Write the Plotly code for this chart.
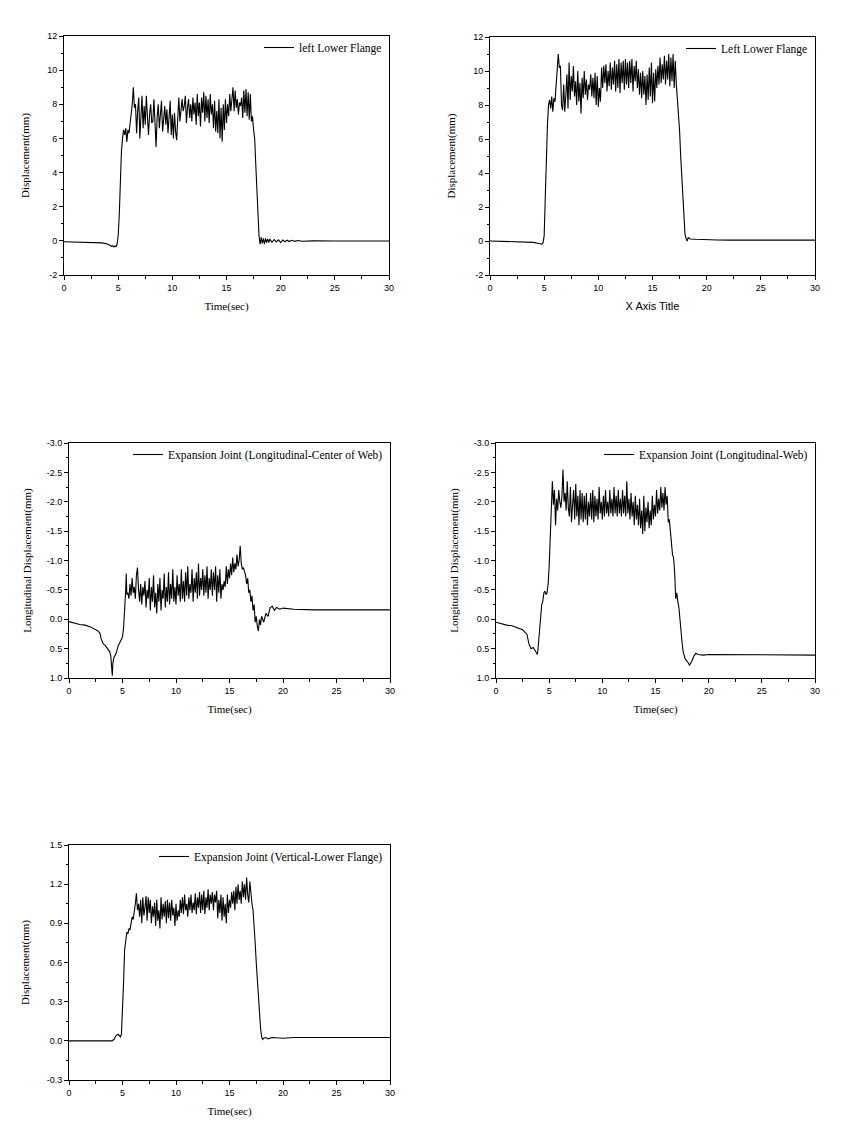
import plotly.graph_objects as go

# ---------------- data ----------------
DT = 0.1

# Series 1: left Lower Flange
s1_pre_t = [0, 1, 2, 3, 3.5, 4.0, 4.2, 4.4, 4.5, 4.6, 4.7, 4.8, 4.9, 5.0, 5.1, 5.2, 5.3, 5.4,
            5.5, 5.6, 5.7, 5.8, 5.9, 6.0, 6.1, 6.2, 6.3, 6.4]
s1_pre_y = [-0.05, -0.06, -0.08, -0.1, -0.12, -0.18, -0.25, -0.32, -0.28, -0.36, -0.3, -0.34, -0.2,
            0.3, 1.5, 3.5, 5.2, 6.0, 6.5, 6.2, 6.6, 5.8, 6.5, 6.3, 6.9, 7.2, 8.0, 9.0]
s1_plateau_start = 6.5
s1_plateau_y = [7.8, 8.0, 6.3, 7.6, 8.4, 6.0, 7.2, 8.5, 6.6, 7.9,
                6.8, 8.5, 7.3, 6.2, 7.4, 8.0, 6.9, 7.0, 8.3, 6.4,
                5.5, 7.3, 8.0, 6.6, 7.5, 8.2, 6.4, 7.0, 7.9, 6.8,
                7.7, 6.3, 7.1, 8.2, 6.2, 7.4, 6.0, 7.5, 6.4, 5.9,
                7.2, 8.4, 7.0, 7.8, 8.3, 7.6, 7.9, 8.5, 6.9, 7.8,
                8.3, 7.2, 8.0, 7.0, 8.4, 7.4, 8.1, 6.8, 8.6, 7.3,
                8.1, 6.7, 8.4, 7.5, 8.7, 7.0, 8.5, 7.2, 8.3, 6.9,
                8.6, 7.4, 8.0, 6.6, 8.2, 6.4, 7.6, 6.3, 8.3, 6.0,
                7.8, 5.8, 8.0, 6.5, 8.3, 6.9, 8.0, 7.3, 8.6, 7.6,
                8.2, 9.0, 7.6, 8.8, 7.8, 8.3, 7.4, 8.1, 7.9, 8.4,
                7.2, 8.8, 7.5, 8.9, 7.3, 8.7, 7.1, 8.6, 7.0, 7.3]
s1_post_t = [17.5, 17.6, 17.7, 17.8, 17.9, 18.0, 18.1, 18.2, 18.3, 18.4, 18.5, 18.6, 18.7, 18.8,
             18.9, 19.0, 19.2, 19.4, 19.6, 19.8, 20.0, 20.2, 20.4, 20.6, 20.8, 21.0, 21.3, 21.6,
             22.0, 23.0, 25.0, 30.0]
s1_post_y = [6.5, 6.0, 4.5, 3.0, 1.5, 0.3, -0.2, 0.2, -0.15, 0.15, -0.2, 0.15, -0.1, 0.12,
             -0.1, 0.1, -0.08, 0.08, -0.06, 0.06, -0.1, 0.05, -0.05, 0.04, -0.04, 0.03, -0.03, 0.02,
             -0.02, 0.0, -0.01, -0.01]

# Series 2: Left Lower Flange
s2_pre_t = [0, 1, 2, 3, 4, 4.5, 4.8, 4.9, 5.0, 5.1, 5.2, 5.3, 5.4, 5.5, 5.6, 5.7, 5.8, 5.9, 6.0,
            6.1, 6.2, 6.3]
s2_pre_y = [0.0, -0.02, -0.03, -0.05, -0.08, -0.15, -0.18, -0.1, 0.3, 2.5, 5.0, 6.8, 8.0, 8.3,
            7.8, 8.5, 7.6, 8.4, 8.2, 9.0, 10.2, 11.0]
s2_plateau_start = 6.4
s2_plateau_y = [10.2, 10.3, 8.0, 7.7, 9.2, 7.6, 8.6, 9.8, 7.8, 10.5,
                8.3, 9.7, 8.8, 10.3, 8.5, 9.4, 8.0, 10.0, 8.2, 9.3,
                7.5, 9.6, 8.4, 10.0, 8.6, 9.5, 8.3, 9.2, 8.9, 9.8,
                8.5, 9.6, 8.4, 9.9, 8.0, 9.7, 7.9, 9.0, 8.2, 10.2,
                9.0, 10.3, 9.3, 10.4, 8.8, 10.0, 9.1, 10.5, 8.9, 10.2,
                9.2, 10.6, 8.8, 10.4, 9.0, 10.7, 8.7, 10.5, 9.3, 10.6,
                8.9, 10.7, 9.2, 10.5, 9.0, 10.6, 9.3, 10.7, 8.8, 10.3,
                9.4, 10.6, 9.0, 10.1, 8.6, 9.9, 8.4, 10.0, 8.6, 9.7,
                8.0, 9.8, 8.3, 10.2, 8.5, 10.5, 8.1, 9.9, 8.2, 10.1,
                9.0, 10.3, 9.2, 10.8, 9.3, 10.4, 9.5, 10.9, 9.2, 10.6,
                9.5, 11.0, 9.1, 10.8, 9.4, 11.0, 9.0, 10.6, 9.2, 8.3]
s2_post_t = [17.4, 17.5, 17.6, 17.7, 17.8, 17.9, 18.0, 18.1, 18.2, 18.3, 18.5, 19.0, 19.5, 20.0,
             21.0, 22.0, 25.0, 30.0]
s2_post_y = [7.5, 6.5, 5.0, 3.8, 2.5, 1.2, 0.4, 0.15, 0.0, 0.2, 0.12, 0.1, 0.08, 0.1,
             0.06, 0.05, 0.05, 0.05]

# Series 3: Expansion Joint (Longitudinal-Center of Web)
s3_pre_t = [0, 0.5, 1.0, 1.5, 2.0, 2.5, 2.7, 2.9, 3.0, 3.2, 3.4, 3.6, 3.8, 3.9, 4.0, 4.05, 4.1,
            4.2, 4.4, 4.6, 4.8, 5.0, 5.1, 5.2, 5.3, 5.35, 5.4]
s3_pre_y = [0.04, 0.07, 0.09, 0.1, 0.13, 0.18, 0.2, 0.24, 0.33, 0.42, 0.45, 0.5, 0.55, 0.62, 0.8,
            0.96, 0.75, 0.65, 0.58, 0.45, 0.38, 0.3, 0.15, -0.1, -0.5, -0.78, -0.42]
s3_plateau_start = 5.5
s3_plateau_y = [-0.45, -0.35, -0.6, -0.4, -0.7, -0.45, -0.55, -0.35, -0.75, -0.88,
                -0.5, -0.3, -0.6, -0.25, -0.55, -0.4, -0.65, -0.2, -0.5, -0.35,
                -0.7, -0.15, -0.55, -0.3, -0.75, -0.2, -0.45, -0.1, -0.6, -0.3,
                -0.7, -0.15, -0.5, -0.35, -0.78, -0.2, -0.55, -0.3, -0.8, -0.25,
                -0.6, -0.35, -0.85, -0.3, -0.55, -0.25, -0.75, -0.4, -0.6, -0.3,
                -0.85, -0.35, -0.65, -0.3, -0.8, -0.4, -0.9, -0.35, -0.6, -0.45,
                -0.85, -0.3, -0.7, -0.45, -0.8, -0.35, -0.95, -0.4, -0.7, -0.5,
                -0.85, -0.4, -0.75, -0.45, -0.9, -0.35, -0.7, -0.5, -0.85, -0.4,
                -0.8, -0.5, -0.9, -0.3, -0.75, -0.45, -0.85, -0.35, -0.6, -0.5,
                -0.65, -0.55, -0.9, -0.6, -0.85, -0.7, -0.95, -0.75, -1.05, -0.8,
                -0.95, -0.85, -1.1, -0.9, -1.0, -1.25]
s3_post_t = [16.1, 16.2, 16.3, 16.5, 16.6, 16.7, 16.8, 16.9, 17.0, 17.1, 17.2, 17.3, 17.4, 17.5,
             17.6, 17.7, 17.8, 17.9, 18.0, 18.2, 18.4, 18.6, 18.8, 19.0, 19.2, 19.4, 19.7, 20.0,
             21.0, 23.0, 30.0]
s3_post_y = [-0.95, -0.85, -0.88, -0.75, -0.6, -0.7, -0.45, -0.5, -0.3, -0.4, -0.15, -0.25, 0.05,
             -0.05, 0.12, 0.2, 0.0, 0.1, -0.05, 0.05, -0.1, -0.05, -0.2, -0.22, -0.15, -0.2, -0.17,
             -0.19, -0.17, -0.16, -0.16]

# Series 4: Expansion Joint (Longitudinal-Web)
s4_pre_t = [0, 0.5, 1, 1.5, 2, 2.5, 2.7, 2.9, 3.1, 3.3, 3.5, 3.7, 3.9, 4.0, 4.1, 4.2, 4.3, 4.4,
            4.5, 4.6, 4.7, 4.8, 4.9, 5.0, 5.1, 5.2, 5.3, 5.4]
s4_pre_y = [0.05, 0.08, 0.1, 0.11, 0.15, 0.18, 0.22, 0.25, 0.42, 0.5, 0.48, 0.55, 0.6, 0.4, 0.15,
            -0.05, -0.25, -0.3, -0.45, -0.48, -0.42, -0.45, -0.6, -0.9, -1.4, -1.9, -2.35, -1.95]
s4_plateau_start = 5.5
s4_plateau_y = [-2.2, -1.6, -2.05, -1.85, -2.2, -2.0, -1.9, -2.1, -2.55, -2.0,
                -2.15, -1.85, -2.35, -1.9, -1.75, -2.25, -1.65, -1.95, -2.2, -1.7,
                -2.3, -1.75, -2.1, -1.6, -2.2, -1.7, -2.15, -1.65, -2.1, -1.7,
                -2.15, -1.6, -2.0, -1.75, -2.15, -1.7, -2.2, -1.65, -2.1, -1.75,
                -2.05, -1.7, -2.25, -1.8, -2.0, -1.7, -2.1, -1.75, -2.2, -1.8,
                -2.0, -1.75, -2.2, -1.8, -2.05, -1.75, -2.25, -1.8, -2.1, -1.75,
                -2.2, -1.8, -2.05, -1.75, -2.2, -1.8, -2.1, -1.75, -2.35, -1.8,
                -2.05, -1.7, -2.15, -1.75, -2.0, -1.6, -2.1, -1.7, -1.95, -1.6,
                -2.05, -1.55, -1.85, -1.45, -2.1, -1.5, -1.9, -1.65, -2.0, -1.55,
                -1.85, -1.6, -2.1, -1.7, -1.95, -1.75, -2.2, -1.8, -2.05, -1.85,
                -2.25, -1.9, -2.15, -1.85, -2.25, -1.95, -2.1]
s4_post_t = [16.2, 16.3, 16.4, 16.5, 16.6, 16.7, 16.8, 16.9, 17.0, 17.1, 17.2, 17.3, 17.4, 17.5,
             17.6, 17.7, 17.8, 17.9, 18.0, 18.2, 18.4, 18.6, 18.8, 19.0, 19.5, 20.0, 25.0, 30.0]
s4_post_y = [-1.65, -1.7, -1.5, -1.3, -1.1, -1.05, -0.8, -0.35, -0.45, -0.3, -0.2, 0.0, 0.25, 0.4,
             0.55, 0.65, 0.68, 0.7, 0.72, 0.78, 0.72, 0.63, 0.58, 0.6, 0.61, 0.6, 0.61, 0.61]

# Series 5: Expansion Joint (Vertical-Lower Flange)
s5_pre_t = [0, 1, 2, 3, 4.0, 4.2, 4.4, 4.6, 4.8, 4.9, 5.0, 5.1, 5.2, 5.3, 5.4, 5.5, 5.6, 5.7,
            5.8, 5.9, 6.0, 6.1, 6.2, 6.3]
s5_pre_y = [0.0, 0.0, 0.0, 0.0, 0.0, 0.01, 0.04, 0.05, 0.03, 0.05, 0.2, 0.45, 0.7, 0.8, 0.83,
            0.82, 0.86, 0.85, 0.9, 0.95, 0.93, 0.98, 1.05, 1.13]
s5_plateau_start = 6.4
s5_plateau_y = [1.0, 1.05, 0.95, 1.08, 0.9, 1.1, 0.96, 1.02, 1.11, 0.92,
                1.1, 0.98, 1.08, 0.9, 1.03, 0.95, 1.06, 0.88, 1.08, 0.92,
                1.0, 0.86, 1.1, 0.93, 1.05, 0.95, 1.07, 0.9, 1.08, 0.94,
                1.06, 0.92, 1.08, 0.96, 1.02, 0.88, 1.05, 0.92, 1.0, 0.95,
                1.08, 0.98, 1.1, 0.97, 1.12, 1.0, 1.05, 0.95, 1.1, 1.0,
                1.12, 0.98, 1.06, 1.0, 1.13, 0.97, 1.1, 1.02, 1.14, 0.98,
                1.12, 1.0, 1.15, 0.97, 1.1, 1.02, 1.16, 1.0, 1.12, 1.05,
                1.14, 1.0, 1.12, 1.06, 1.15, 0.94, 1.08, 0.98, 1.12, 0.92,
                1.1, 0.95, 1.05, 0.9, 1.12, 0.98, 1.08, 1.02, 1.14, 1.05,
                1.15, 1.0, 1.18, 1.05, 1.2, 1.08, 1.15, 1.05, 1.22, 1.1,
                1.2, 1.08, 1.25, 1.12, 1.06, 1.22, 1.1, 1.05]
s5_post_t = [17.2, 17.3, 17.4, 17.5, 17.6, 17.7, 17.8, 17.9, 18.0, 18.1, 18.2, 18.4, 18.6, 19.0,
             20.0, 21.0, 25.0, 30.0]
s5_post_y = [1.0, 0.9, 0.75, 0.6, 0.45, 0.35, 0.22, 0.1, 0.03, 0.01, 0.02, 0.025, 0.015, 0.025,
             0.02, 0.025, 0.025, 0.025]

series_names = ["left Lower Flange", "Left Lower Flange",
                "Expansion Joint (Longitudinal-Center of Web)",
                "Expansion Joint (Longitudinal-Web)",
                "Expansion Joint (Vertical-Lower Flange)"]
x_titles = ["Time(sec)", "X Axis Title", "Time(sec)", "Time(sec)", "Time(sec)"]
y_titles = ["Displacement(mm)", "Displacement(mm)", "Longitudinal Displacement(mm)",
            "Longitudinal Displacement(mm)", "Displacement(mm)"]

x_ticks = [0, 5, 10, 15, 20, 25, 30]
y_ticks_12 = [-2, 0, 2, 4, 6, 8, 10, 12]
y_ticks_34 = [-3.0, -2.5, -2.0, -1.5, -1.0, -0.5, 0.0, 0.5, 1.0]
y_ticks_5 = [-0.3, 0.0, 0.3, 0.6, 0.9, 1.2, 1.5]


def build(pre_t, pre_y, start, plat_y, post_t, post_y):
    plat_t = [round(start + i * DT, 2) for i in range(len(plat_y))]
    return pre_t + plat_t + post_t, pre_y + plat_y + post_y


all_series = [
    build(s1_pre_t, s1_pre_y, s1_plateau_start, s1_plateau_y, s1_post_t, s1_post_y),
    build(s2_pre_t, s2_pre_y, s2_plateau_start, s2_plateau_y, s2_post_t, s2_post_y),
    build(s3_pre_t, s3_pre_y, s3_plateau_start, s3_plateau_y, s3_post_t, s3_post_y),
    build(s4_pre_t, s4_pre_y, s4_plateau_start, s4_plateau_y, s4_post_t, s4_post_y),
    build(s5_pre_t, s5_pre_y, s5_plateau_start, s5_plateau_y, s5_post_t, s5_post_y),
]

# ---------------- layout ----------------
OFF = 8                      # page body margin
W, H = 856 - OFF, 1136 - OFF
# plot boxes in page pixels: (left, right, top, bottom)
boxes = [(64, 389, 36, 275), (490, 815, 37, 275),
         (69, 390, 443, 678), (496, 815, 443, 678),
         (69, 390, 845, 1080)]
ytitle_standoff = [15, 15, 12, 12, 14]

SERIF = "Liberation Serif, Times New Roman, serif"
SANS = "Liberation Sans, Arial, sans-serif"


def fmt(v, dec):
    return f"{v:.{dec}f}"


fig = go.Figure()
layout = dict(template="none", width=W, height=H, margin=dict(l=0, r=0, t=0, b=0),
              paper_bgcolor="white", plot_bgcolor="white", showlegend=True)

y_cfg = [
    (y_ticks_12, 0, [-2, 12], 1),
    (y_ticks_12, 0, [-2, 12], 1),
    (y_ticks_34, 1, [1.0, -3.0], 0.25),
    (y_ticks_34, 1, [1.0, -3.0], 0.25),
    (y_ticks_5, 1, [-0.3, 1.5], 0.15),
]

for i, ((t, y), (l, r, top, bot)) in enumerate(zip(all_series, boxes)):
    n = i + 1
    xa = "x" if n == 1 else f"x{n}"
    ya = "y" if n == 1 else f"y{n}"
    lg = "legend" if n == 1 else f"legend{n}"
    fig.add_trace(go.Scatter(x=t, y=y, mode="lines", name=series_names[i],
                             line=dict(color="black", width=1.1),
                             xaxis=xa, yaxis=ya, legend=lg))
    l, r, top, bot = l - OFF, r - OFF, top - OFF, bot - OFF
    xd = [l / W, r / W]
    yd = [1 - bot / H, 1 - top / H]
    yt, dec, yrange, ydt = y_cfg[i]
    xkey = "xaxis" if n == 1 else f"xaxis{n}"
    ykey = "yaxis" if n == 1 else f"yaxis{n}"
    common = dict(showline=True, linecolor="black", linewidth=1, mirror=True,
                  ticks="outside", ticklen=4, tickwidth=1, tickcolor="black",
                  showgrid=False, zeroline=False, automargin=False,
                  tickfont=dict(family=SANS, size=9, color="black"))
    layout[xkey] = dict(domain=xd, range=[0, 30], anchor=ya,
                        tickvals=x_ticks, ticktext=[str(v) for v in x_ticks],
                        minor=dict(ticks="outside", ticklen=2.5, tickcolor="black",
                                   dtick=2.5, tick0=0, showgrid=False),
                        title=dict(text=x_titles[i], standoff=10,
                                   font=dict(family=SANS if i == 1 else SERIF, size=11,
                                             color="black")),
                        **common)
    layout[ykey] = dict(domain=yd, range=yrange, anchor=xa,
                        tickvals=yt, ticktext=[fmt(v, dec) for v in yt],
                        minor=dict(ticks="outside", ticklen=2.5, tickcolor="black",
                                   dtick=ydt, tick0=0, showgrid=False),
                        title=dict(text=y_titles[i], standoff=ytitle_standoff[i],
                                   font=dict(family=SERIF, size=11, color="black")),
                        **common)
    layout[lg] = dict(x=xd[1] - 2 / W, xanchor="right", y=yd[1] + 3 / H, yanchor="top",
                      bgcolor="rgba(0,0,0,0)", borderwidth=0,
                      font=dict(family=SERIF, size=11.5, color="black"),
                      itemwidth=30, tracegroupgap=0)

fig.update_layout(**layout)
fig.write_html("out.html")
